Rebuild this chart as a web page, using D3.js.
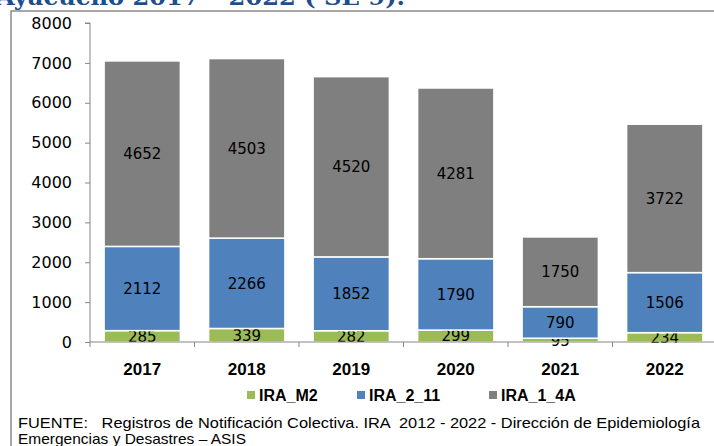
<!DOCTYPE html>
<html>
<head>
<meta charset="utf-8">
<script src="https://cdn.jsdelivr.net/npm/d3@7.9.0/dist/d3.min.js"></script>
<style>
  html, body { margin: 0; padding: 0; background: #fff; overflow: hidden; }
  svg { display: block; }
</style>
</head>
<body>
<svg id="chart"></svg>
<script>
// Data
const years = ['2017', '2018', '2019', '2020', '2021', '2022'];
const seriesNames = ['IRA_M2', 'IRA_2_11', 'IRA_1_4A'];
const iraM2 = [285, 339, 282, 299, 95, 234];
const ira211 = [2112, 2266, 1852, 1790, 790, 1506];
const ira14A = [4652, 4503, 4520, 4281, 1750, 3722];
const yTicks = [0, 1000, 2000, 3000, 4000, 5000, 6000, 7000, 8000];
const colors = ['#9BBB59', '#4F81BD', '#7F7F7F'];

const width = 714;
const height = 446;
const marginTop = 23;
const marginLeft = 90;
const plotBottom = 342;
const plotRight = 717;

const svg = d3.select('#chart')
  .attr('width', width)
  .attr('height', height)
  .attr('viewBox', [0, 0, width, height]);

// Title (clipped at top in the reference)
svg.append('text')
  .attr('x', -4)
  .attr('y', 5)
  .attr('font-family', '"DejaVu Serif", "Liberation Serif", serif')
  .attr('font-weight', 'bold')
  .attr('font-size', 22)
  .attr('fill', '#1F4E8C')
  .attr('textLength', 409)
  .attr('lengthAdjust', 'spacingAndGlyphs')
  .text('Ayacucho 2017 \u2013 2022 ( SE 9).');

// Frame
svg.append('path')
  .attr('d', `M11,${height} V11 H${width}`)
  .attr('fill', 'none')
  .attr('stroke', '#8C8C8C')
  .attr('stroke-width', 1.5);

const table = years.map((year, i) => ({
  year,
  IRA_M2: iraM2[i],
  IRA_2_11: ira211[i],
  IRA_1_4A: ira14A[i],
}));

const stacked = d3.stack().keys(seriesNames)(table);

const x = d3.scaleBand()
  .domain(years)
  .range([marginLeft, plotRight])
  .paddingInner(0.27)
  .paddingOuter(0.135);

const y = d3.scaleLinear()
  .domain([0, 8000])
  .range([plotBottom, marginTop]);

// Bars
const layer = svg.append('g')
  .selectAll('g')
  .data(stacked)
  .join('g')
  .attr('fill', (d, i) => colors[i]);

layer.selectAll('rect')
  .data((d) => d)
  .join('rect')
  .attr('x', (d) => x(d.data.year))
  .attr('width', x.bandwidth())
  .attr('y', (d) => y(d[1]))
  .attr('height', (d) => y(d[0]) - y(d[1]))
  .attr('stroke', '#fff')
  .attr('stroke-width', 1.5);

// Y axis
svg.append('g')
  .attr('transform', `translate(${marginLeft},0)`)
  .call(d3.axisLeft(y).tickValues(yTicks).tickFormat(d3.format('d')).tickSize(5).tickPadding(13))
  .call((g) => g.select('.domain').attr('stroke', '#868686').attr('d', `M-5,${marginTop}H0V${plotBottom}`))
  .call((g) => g.selectAll('.tick line').attr('stroke', '#868686'))
  .call((g) => g.selectAll('.tick text')
    .attr('font-family', '"DejaVu Sans", sans-serif')
    .attr('font-size', 16)
    .attr('fill', '#000'));

// X axis with ticks at band boundaries
const xAxis = svg.append('g');
xAxis.append('line')
  .attr('x1', marginLeft).attr('x2', width)
  .attr('y1', plotBottom).attr('y2', plotBottom)
  .attr('stroke', '#868686');
const step = x.step();
const boundaries = d3.range(years.length + 1).map((i) => marginLeft + i * step);
xAxis.selectAll('.xtick')
  .data(boundaries)
  .join('line')
  .attr('class', 'xtick')
  .attr('x1', (d) => d).attr('x2', (d) => d)
  .attr('y1', plotBottom).attr('y2', plotBottom + 5)
  .attr('stroke', '#868686');
xAxis.selectAll('.xlabel')
  .data(years)
  .join('text')
  .attr('class', 'xlabel')
  .attr('x', (d) => x(d) + x.bandwidth() / 2)
  .attr('y', 375)
  .attr('text-anchor', 'middle')
  .attr('font-family', '"Liberation Sans", Arial, sans-serif')
  .attr('font-weight', 'bold')
  .attr('font-size', 17)
  .attr('fill', '#000')
  .text((d) => d);

// Value labels
layer.selectAll('text')
  .data((d) => d)
  .join('text')
  .attr('x', (d) => x(d.data.year) + x.bandwidth() / 2)
  .attr('y', (d) => (y(d[0]) + y(d[1])) / 2)
  .attr('dy', '0.36em')
  .attr('text-anchor', 'middle')
  .attr('font-family', '"DejaVu Sans", sans-serif')
  .attr('font-size', 15)
  .attr('fill', '#000')
  .text((d) => d[1] - d[0]);

// Legend
const legendX = [247, 357, 489];
const legend = svg.append('g')
  .selectAll('g')
  .data(seriesNames)
  .join('g')
  .attr('transform', (d, i) => `translate(${legendX[i]},395)`);
legend.append('rect')
  .attr('x', 0).attr('y', -4)
  .attr('width', 8).attr('height', 8)
  .attr('fill', (d, i) => colors[i]);
legend.append('text')
  .attr('x', 12)
  .attr('dy', '0.36em')
  .attr('font-family', '"Liberation Sans", Arial, sans-serif')
  .attr('font-weight', 'bold')
  .attr('font-size', 16)
  .attr('fill', '#000')
  .text((d) => d);

// Source note
svg.append('text')
  .attr('x', 18)
  .attr('y', 428)
  .attr('font-family', '"Liberation Sans", Arial, sans-serif')
  .attr('font-size', 15)
  .attr('fill', '#000')
  .attr('textLength', 682)
  .attr('lengthAdjust', 'spacingAndGlyphs')
  .attr('xml:space', 'preserve')
  .text('FUENTE:   Registros de Notificación Colectiva. IRA  2012 - 2022 - Dirección de Epidemiología');
svg.append('text')
  .attr('x', 18)
  .attr('y', 444)
  .attr('font-family', '"Liberation Sans", Arial, sans-serif')
  .attr('font-size', 15)
  .attr('fill', '#000')
  .attr('textLength', 228)
  .attr('lengthAdjust', 'spacingAndGlyphs')
  .text('Emergencias y Desastres \u2013 ASIS');
</script>
</body>
</html>
